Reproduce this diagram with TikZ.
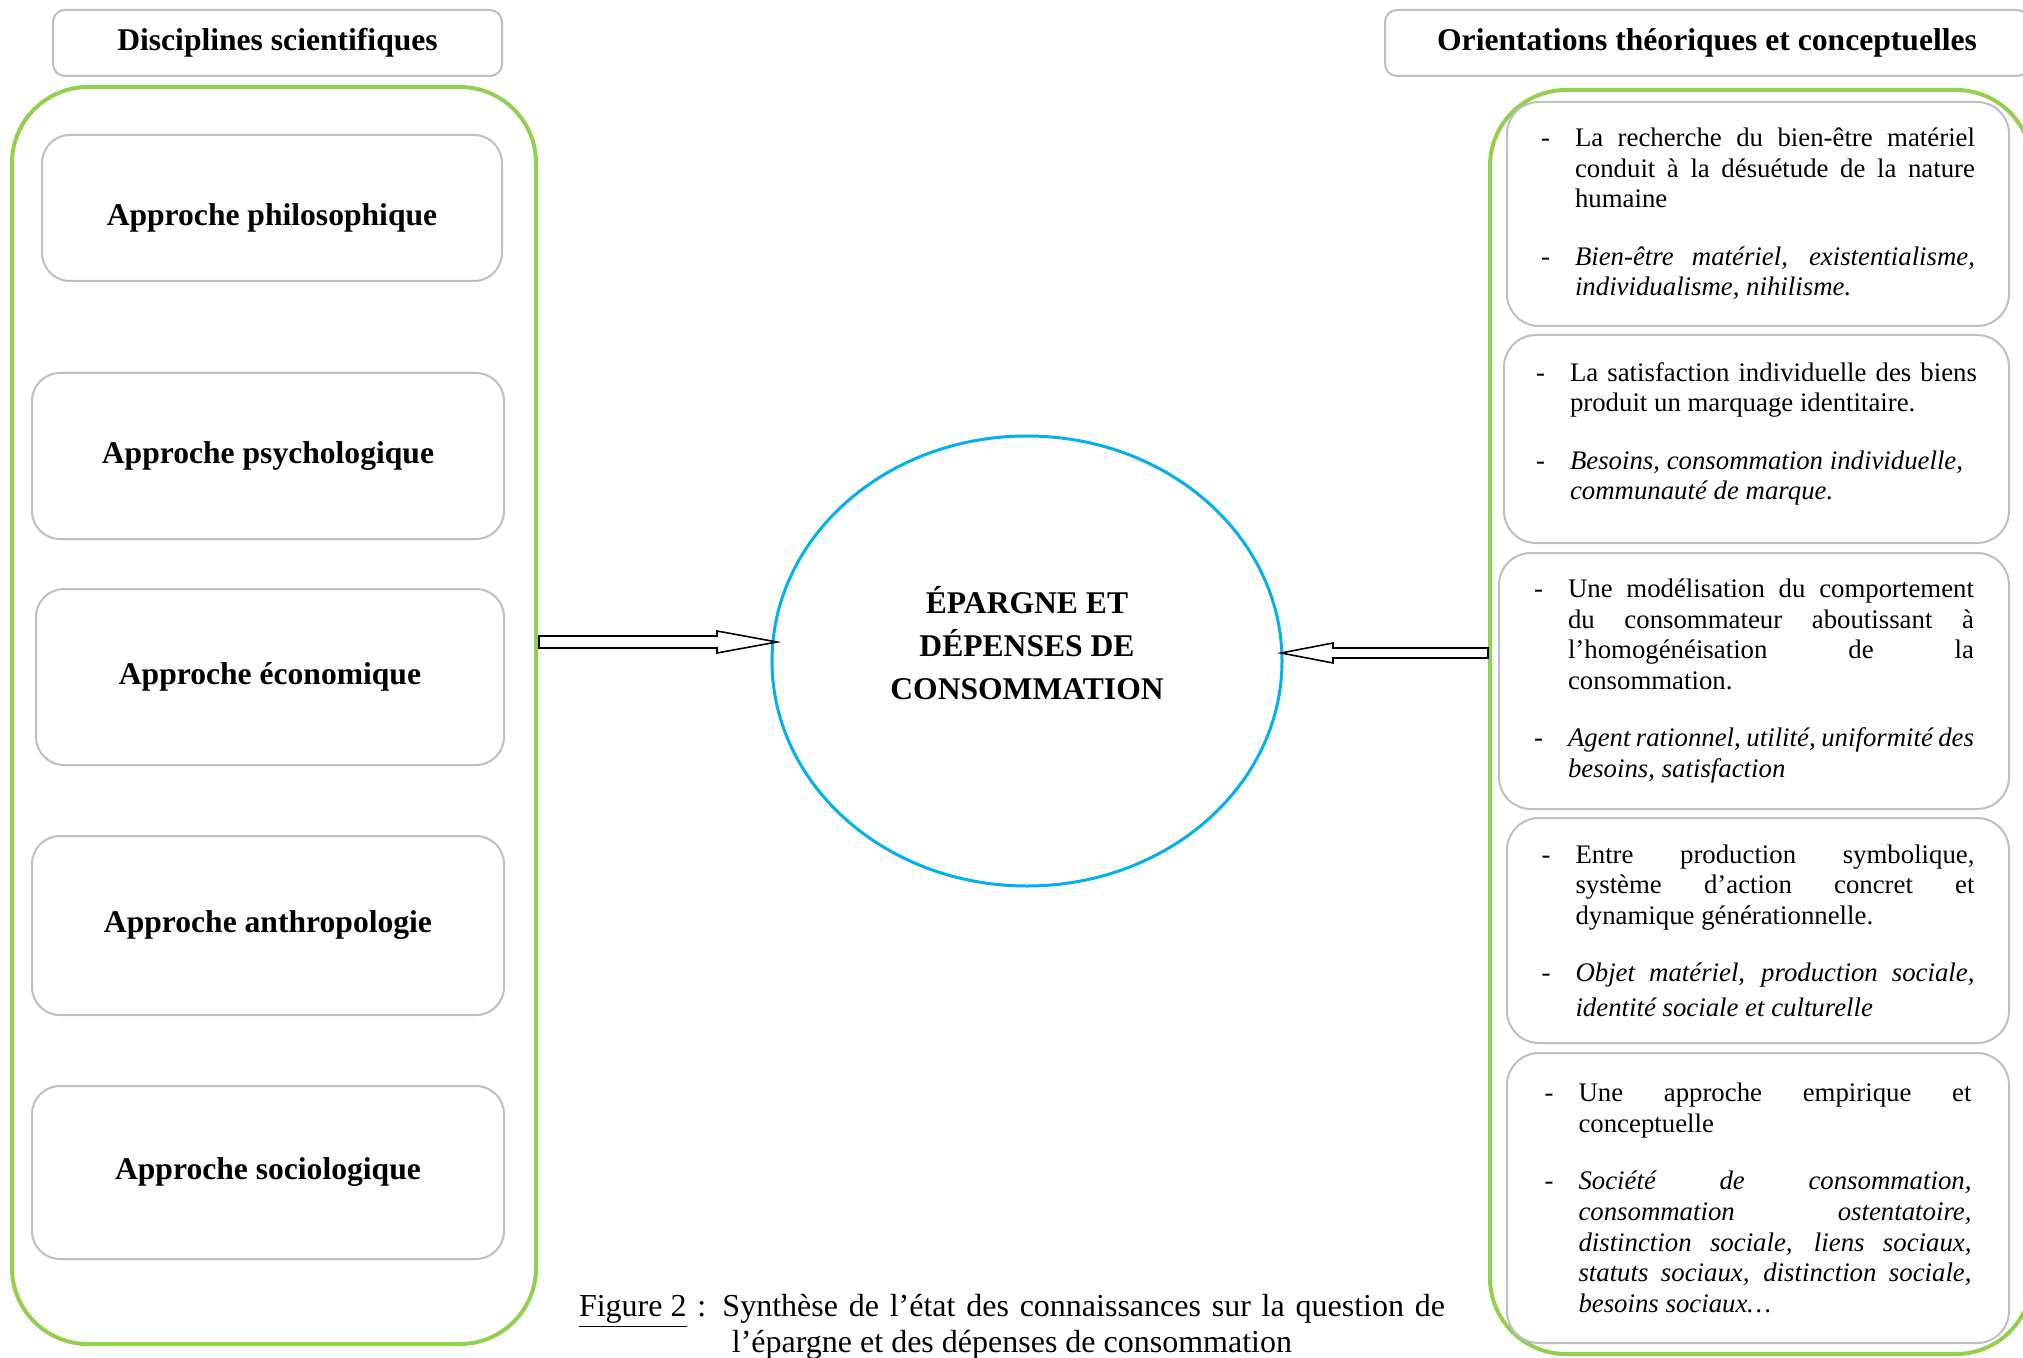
\documentclass[tikz,border=0pt]{standalone}
\usepackage{fontspec}
\setmainfont{Liberation Serif}
\usetikzlibrary{calc,shapes.geometric}
\definecolor{lgreen}{HTML}{92D050}
\definecolor{lblue}{HTML}{00B0F0}
\definecolor{boxgray}{HTML}{BFBFBF}
\newlength\ind \setlength\ind{17pt}
\newlength\tw
\newlength\itemgap \setlength\itemgap{13.4pt}
\newcommand\djl[1]{\hbox{\hbox to\ind{-\hfil}\hbox to\tw{#1}}}
\newcommand\dll[1]{\hbox{\hbox to\ind{-\hfil}\hbox to\tw{#1\hfil}}}
\newcommand\jl[1]{\hbox{\hskip\ind\hbox to\tw{#1}}}
\newcommand\lastl[1]{\hbox{\hskip\ind\hbox to\tw{#1\hfil}}}
\newcommand\bodyf{\fontsize{13.4}{15.3}\selectfont}
\newcommand\headf{\bfseries\fontsize{15.8}{19}\selectfont}
\tikzset{
  greenbox/.style={draw=lgreen, line width=2pt, rounded corners=38pt, inner sep=0pt, anchor=north west},
  hdrbox/.style={draw=boxgray, line width=1pt, rounded corners=6pt, inner sep=0pt, anchor=north west, font=\headf},
  lbox/.style={draw=boxgray, line width=1pt, rounded corners=14pt, inner sep=0pt, anchor=north west, font=\headf},
  rbox/.style={draw=boxgray, line width=1pt, rounded corners=16pt, inner sep=0pt, anchor=north west, font=\bodyf},
  blk/.style={draw=black, line width=0.8pt, fill=white, line join=miter},
}
\begin{document}
\begin{tikzpicture}[x=0.5pt,y=-0.5pt]
\useasboundingbox (0,0) rectangle (2023,1358);
% green containers
\node[greenbox, minimum width=262pt, minimum height=628.5pt] (lg) at (10,85) {};
\node[greenbox, minimum width=271pt, minimum height=632pt] (rg) at (1488,88) {};
% headers
\node[hdrbox, minimum width=224.5pt, minimum height=33pt] (hl) at (52,9) {Disciplines scientifiques};
\node[hdrbox, minimum width=322pt, minimum height=33pt] (hr) at (1384,9) {Orientations théoriques et conceptuelles};
% left boxes
\node[lbox, minimum width=230pt, minimum height=73pt,
  label={[font=\headf, yshift=-5pt]center:Approche philosophique}] (l1) at (41,134) {};
\node[lbox, minimum width=236pt, minimum height=83pt] (l2) at (31,372) {Approche psychologique};
\node[lbox, minimum width=234pt, minimum height=88pt] (l3) at (35,588) {Approche économique};
\node[lbox, minimum width=236pt, minimum height=89.5pt] (l4) at (31,835) {Approche anthropologie};
\node[lbox, minimum width=236pt, minimum height=86.5pt] (l5) at (31,1085) {Approche sociologique};
% right boxes
\node[rbox, minimum width=251pt, minimum height=112pt] (r1) at (1506,101) {\vbox{\setlength\tw{200pt}%
\djl{La recherche du bien-être matériel}
\jl{conduit à la désuétude de la nature}
\lastl{humaine}
\vskip\itemgap
\djl{\itshape Bien-être matériel, existentialisme,}
\lastl{\itshape individualisme, nihilisme.}}};
\node[rbox, minimum width=252.5pt, minimum height=104pt] (r2) at (1503,334) {\vbox{\setlength\tw{203.5pt}%
\djl{La satisfaction individuelle des biens}
\lastl{produit un marquage identitaire.}
\vskip\itemgap
\dll{\itshape Besoins, consommation individuelle,}
\lastl{\itshape communauté de marque.}
\vskip 5pt}};
\node[rbox, minimum width=255pt, minimum height=128pt] (r3) at (1498,552) {\vbox{\setlength\tw{203pt}%
\djl{Une modélisation du comportement}
\jl{du consommateur aboutissant à}
\jl{l’homogénéisation de la}
\lastl{consommation.}
\vskip\itemgap
\djl{\itshape Agent rationnel, utilité, uniformité des}
\lastl{\itshape besoins, satisfaction}}};
\node[rbox, minimum width=251pt, minimum height=112.5pt] (r4) at (1506,817) {\vbox{\setlength\tw{199.5pt}%
\djl{Entre production symbolique,}
\jl{système d’action concret et}
\lastl{dynamique générationnelle.}
\vskip\itemgap
\djl{\itshape Objet matériel, production sociale,}
\vskip 2pt
\lastl{\itshape identité sociale et culturelle}}};
\node[rbox, minimum width=251pt, minimum height=145pt] (r5) at (1506,1052) {\vbox{\setlength\tw{196.5pt}%
\djl{Une approche empirique et}
\lastl{conceptuelle}
\vskip\itemgap
\djl{\itshape Société de consommation,}
\jl{\itshape consommation ostentatoire,}
\jl{\itshape distinction sociale, liens sociaux,}
\jl{\itshape statuts sociaux, distinction sociale,}
\lastl{\itshape besoins sociaux…}}};
% central ellipse
\node[ellipse, draw=lblue, line width=1.5pt, minimum width=255pt, minimum height=225pt, inner sep=0pt] (ell) at (1027,661) {};
\node[align=center, font=\bfseries\fontsize{15.8}{21.5}\selectfont] (ellt) at (1027,643) {ÉPARGNE ET\\DÉPENSES DE\\CONSOMMATION};
% block arrows
\coordinate (a1s) at (539,642);
\coordinate (a1t) at (777,642);
\draw[blk] ($(a1s)+(0,-6)$) -- ($(a1t)+(-60,-6)$) -- ($(a1t)+(-60,-11)$) -- (a1t) -- ($(a1t)+(-60,11)$) -- ($(a1t)+(-60,6)$) -- ($(a1s)+(0,6)$) -- cycle;
\coordinate (a2s) at (1488,653);
\coordinate (a2t) at (1281,653);
\draw[blk] ($(a2s)+(0,-5)$) -- ($(a2t)+(52,-5)$) -- ($(a2t)+(52,-10)$) -- (a2t) -- ($(a2t)+(52,10)$) -- ($(a2t)+(52,5)$) -- ($(a2s)+(0,5)$) -- cycle;
% caption
\node[align=center, font=\fontsize{16}{18}\selectfont] (cap) at (1012,1327) {\hbox to 433pt{\underline{Figure 2} : Synthèse de l’état des connaissances sur la question de}\\l’épargne et des dépenses de consommation};
\end{tikzpicture}
\end{document}
